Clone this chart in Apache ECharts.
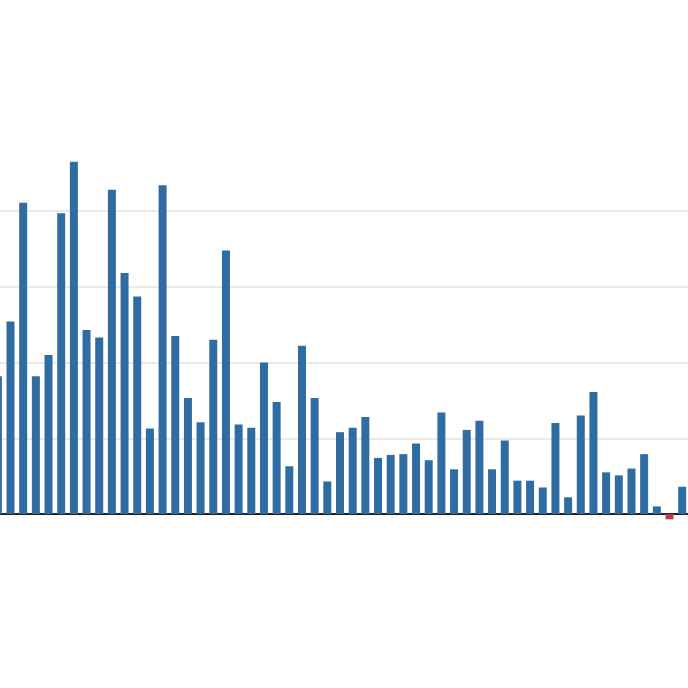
<!DOCTYPE html>
<html>
<head>
<meta charset="utf-8">
<script src="https://cdn.jsdelivr.net/npm/echarts@6/dist/echarts.min.js"></script>
<style>
  html, body { margin: 0; padding: 0; background: #fff; }
  #chart { width: 688px; height: 688px; }
</style>
</head>
<body>
<div id="chart"></div>
<script>
// values (grid step = 10)
const categories = Array.from({ length: 55 }, (_, i) => String(i + 1))
const values = [
  18.2, 25.4, 41.1, 18.2, 21.0, 39.7, 46.5, 24.3, 23.3, 42.8,
  31.8, 28.7, 11.3, 43.4, 23.5, 15.3, 12.1, 23.0, 34.8, 11.8,
  11.4, 20.0, 14.8, 6.3, 22.2, 15.3, 4.3, 10.8, 11.4, 12.8,
  7.4, 7.8, 7.9, 9.3, 7.1, 13.4, 5.9, 11.1, 12.3, 5.9,
  9.7, 4.4, 4.4, 3.5, 12.0, 2.2, 13.0, 16.1, 5.5, 5.1,
  6.0, 7.9, 1.0, -0.7, 3.6,
]

const chart = echarts.init(document.getElementById('chart'))

chart.setOption({
  animation: false,
  grid: {
    // chart is cropped on both sides, so let the grid run past the canvas
    outerBoundsMode: 'none',
    left: -8.5,
    right: -0.5,
    top: 135.25,
    bottom: 98.25,
  },
  xAxis: {
    type: 'category',
    data: categories,
    axisLine: { onZero: true, lineStyle: { color: '#222', width: 2 } },
    axisTick: { show: false },
    axisLabel: { show: false },
    splitLine: { show: false },
  },
  yAxis: {
    type: 'value',
    min: -10,
    max: 50,
    interval: 10,
    axisLine: { show: false },
    axisTick: { show: false },
    axisLabel: { show: false },
    splitLine: {
      show: true,
      showMinLine: false,
      showMaxLine: false,
      lineStyle: { color: '#e3e3e3', width: 1.5 },
    },
  },
  series: [
    {
      type: 'bar',
      barWidth: 8,
      data: values.map((v) => ({
        value: v,
        itemStyle: { color: v < 0 ? '#c0364a' : '#2e6ca2' },
      })),
    },
  ],
})
</script>
</body>
</html>
